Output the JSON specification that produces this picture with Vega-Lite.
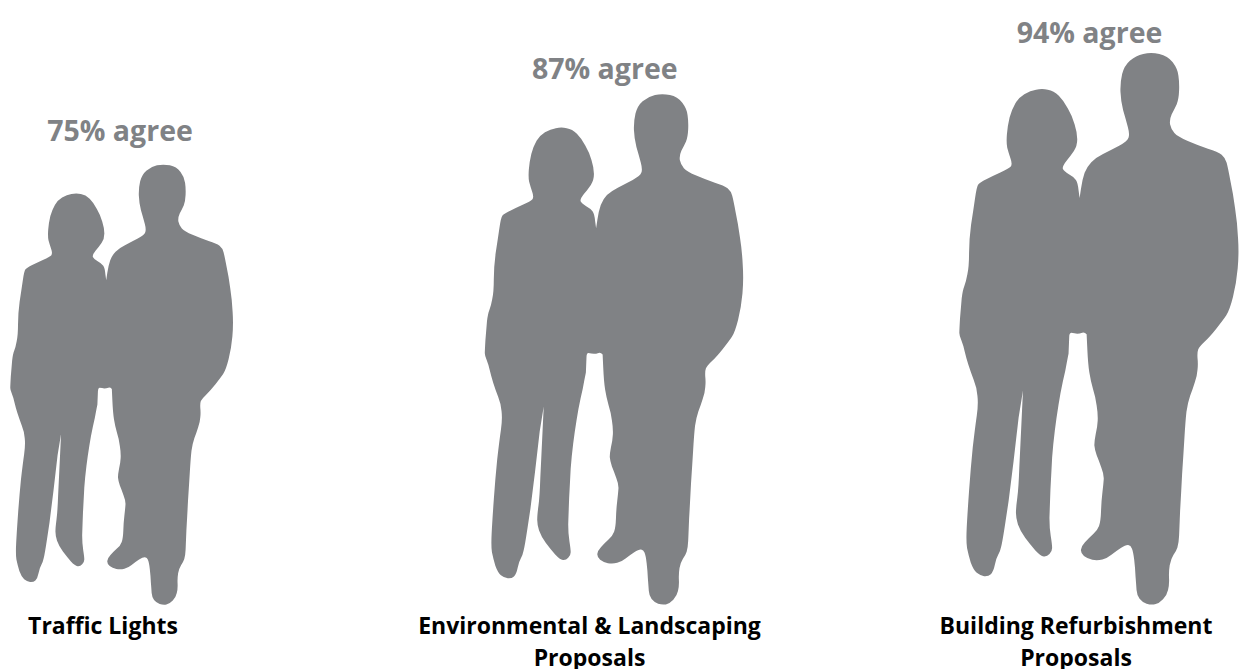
{"$schema":"https://vega.github.io/schema/vega-lite/v6.json","width":1242,"height":669,"padding":0,"autosize":{"type":"fit","contains":"padding"},"background":"white","config":{"view":{"stroke":null}},
"data":{"values":[{"category":"Traffic Lights","title":"Traffic Lights","agree":75,"text":"75% agree"},{"category":"Environmental & Landscaping Proposals","title":"Environmental & Landscaping\nProposals","agree":87,"text":"87% agree"},{"category":"Building Refurbishment Proposals","title":"Building Refurbishment\nProposals","agree":94,"text":"94% agree"}]},
"layer":[
{"mark":{"type":"point","filled":true,"fill":"#808285","opacity":1,"strokeWidth":0,"shape":"M550,-1645Q573,-1650 598,-1645Q623,-1640 638,-1620Q653,-1600 655,-1580Q658,-1560 657,-1535Q656,-1510 650,-1495Q643,-1480 635,-1465Q628,-1450 630,-1435Q633,-1420 643,-1409Q653,-1398 683,-1385Q713,-1372 743,-1362Q773,-1353 784,-1344Q795,-1335 799,-1320Q803,-1305 810,-1267Q818,-1230 824,-1185Q831,-1140 833,-1095Q836,-1050 832,-1005Q828,-960 818,-920Q808,-880 798,-865Q788,-850 768,-825Q748,-800 733,-786Q718,-772 714,-763Q711,-755 712,-737Q714,-720 712,-702Q711,-685 704,-665Q698,-645 690,-625Q683,-605 679,-577Q676,-550 673,-500Q670,-450 666,-390Q663,-330 660,-280Q658,-230 657,-207Q656,-185 652,-172Q648,-160 640,-149Q633,-138 629,-119Q626,-100 627,-80Q628,-60 624,-45Q621,-30 609,-17Q598,-5 585,-2Q573,0 560,-4Q548,-8 539,-19Q531,-30 530,-45Q529,-60 527,-85Q526,-110 523,-135Q520,-160 516,-169Q513,-178 505,-179Q498,-180 483,-170Q468,-160 455,-150Q443,-140 428,-136Q413,-132 398,-135Q383,-138 373,-146Q363,-155 364,-165Q365,-175 376,-187Q388,-200 400,-211Q413,-222 418,-236Q423,-250 424,-280Q425,-310 428,-335Q431,-360 432,-375Q433,-390 425,-410Q418,-430 411,-447Q405,-465 404,-477Q404,-490 408,-510Q413,-530 414,-550Q415,-570 411,-595Q408,-620 400,-645Q393,-670 389,-695Q385,-720 383,-765L381,-808Q375,-815 368,-813Q360,-810 353,-810Q345,-812 335,-813Q329,-812 329,-800L327,-750Q327,-750 322,-725Q318,-700 310,-667Q303,-635 297,-597Q291,-560 286,-520Q281,-480 278,-440Q276,-400 273,-345Q271,-290 270,-260Q270,-230 274,-205Q278,-180 278,-170Q278,-160 270,-152Q263,-144 253,-145Q243,-147 228,-163Q213,-180 198,-200Q183,-220 176,-240Q170,-260 170,-275Q170,-290 174,-320Q178,-350 180,-410Q183,-470 191,-640L178,-560L163,-430L148,-310L139,-250Q130,-190 126,-175Q123,-160 117,-150Q111,-140 107,-120Q103,-100 95,-92Q88,-85 75,-86Q63,-88 53,-96Q43,-105 35,-127Q28,-150 24,-170Q21,-190 23,-230Q25,-270 30,-340Q35,-410 41,-470Q48,-530 53,-565Q58,-600 55,-625Q53,-650 44,-672Q35,-695 28,-717Q21,-740 17,-757Q13,-775 7,-790Q1,-805 1,-812Q1,-820 3,-855Q6,-890 8,-915Q11,-940 16,-952Q21,-965 25,-987Q30,-1010 30,-1050Q30,-1090 36,-1135Q43,-1180 48,-1215Q53,-1250 58,-1256Q63,-1262 83,-1272Q103,-1282 125,-1292Q148,-1302 154,-1308Q160,-1315 154,-1332Q148,-1350 144,-1365Q141,-1380 143,-1405Q145,-1430 151,-1455Q158,-1480 168,-1497Q178,-1515 195,-1525Q213,-1535 230,-1538Q248,-1542 265,-1538Q283,-1535 298,-1520Q313,-1505 325,-1482Q338,-1460 345,-1435Q353,-1410 353,-1390Q353,-1370 343,-1355Q333,-1340 320,-1325Q308,-1310 310,-1302Q313,-1295 328,-1286Q343,-1278 349,-1269Q355,-1260 357,-1237L360,-1215L364,-1242Q368,-1270 375,-1290Q383,-1310 395,-1322Q408,-1335 430,-1346Q453,-1358 478,-1371Q503,-1385 506,-1395Q510,-1405 504,-1427Q498,-1450 490,-1477Q483,-1505 482,-1532Q481,-1560 487,-1585Q493,-1610 510,-1625Q528,-1640 550,-1645Z"},
"encoding":{"x":{"field":"category","type":"nominal","sort":null,"axis":null,"scale":{"type":"point","padding":0,"range":[10,959]}},"y":{"datum":0,"type":"quantitative","axis":null,"scale":{"domain":[0,1],"range":[605,0]}},"size":{"field":"agree","type":"quantitative","legend":null,"scale":{"type":"pow","exponent":2,"domain":[0,100],"range":[0,0.508]}}}},
{"mark":{"type":"text","font":"Open Sans","fontWeight":"bold","fontSize":28.5,"color":"#808285","baseline":"middle","align":"center"},
"encoding":{"x":{"field":"category","type":"nominal","sort":null,"axis":null,"scale":{"type":"point","padding":0,"range":[120,1089.5]}},"y":{"field":"agree","type":"quantitative","axis":null,"scale":{"domain":[0,100],"range":[519,3]}},"text":{"field":"text"}}},
{"mark":{"type":"text","font":"Open Sans","fontWeight":"bold","fontSize":23,"color":"#000000","baseline":"alphabetic","align":"center","lineBreak":"\n","lineHeight":32},
"encoding":{"x":{"field":"category","type":"nominal","sort":null,"axis":null,"scale":{"type":"point","padding":0,"range":[103,1076]}},"y":{"datum":0,"type":"quantitative","axis":null,"scale":{"domain":[0,1],"range":[634,0]}},"text":{"field":"title"}}}
],
"resolve":{"scale":{"x":"independent","y":"independent","size":"independent"}}}
